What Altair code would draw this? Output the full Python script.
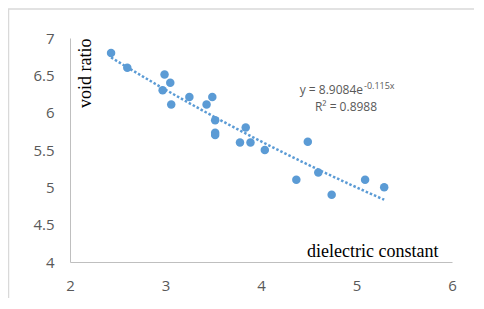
import altair as alt
import pandas as pd

# Data
dielectric = [2.43, 2.60, 2.99, 3.05, 2.97, 3.06, 3.25, 3.43, 3.49, 3.52, 3.52, 3.52,
              3.84, 3.78, 3.89, 4.04, 4.49, 4.37, 4.60, 4.74, 5.09, 5.29]
void_ratio = [6.80, 6.60, 6.51, 6.40, 6.30, 6.11, 6.21, 6.11, 6.21, 5.90, 5.73, 5.70,
              5.80, 5.60, 5.60, 5.50, 5.61, 5.10, 5.20, 4.90, 5.10, 5.00]
x_ticks = [2, 3, 4, 5, 6]
y_ticks = [4, 4.5, 5, 5.5, 6, 6.5, 7]
eq_main = "y = 8.9084e"
eq_sup = "-0.115x"
r2_text = "R² = 0.8988"

df = pd.DataFrame({"x": dielectric, "y": void_ratio})

BLUE = "#5B9BD5"
GRAY = "#595959"

W, H = 382, 224

xs = alt.X("x:Q", scale=alt.Scale(domain=[2, 6], nice=False, zero=False),
           axis=alt.Axis(values=x_ticks, title="dielectric constant", grid=False,
                         ticks=False, tickSize=0, labelPadding=16, domainColor="#BFBFBF",
                         labelColor=GRAY, labelFont="Open Sans", labelFontSize=15,
                         labelFlush=False, labelOverlap=False,
                         titleFont="Liberation Serif", titleFontSize=18, titleFontWeight="normal",
                         titleColor="black", titleX=368, titleY=-6, titleAlign="right",
                         titleBaseline="alphabetic", format="~g"))
ys = alt.Y("y:Q", scale=alt.Scale(domain=[4, 7], nice=False, zero=False),
           axis=alt.Axis(values=y_ticks, title="void ratio", grid=False,
                         ticks=False, tickSize=0, labelPadding=16, domainColor="#BFBFBF",
                         labelColor=GRAY, labelFont="Open Sans", labelFontSize=15,
                         labelFlush=False, labelOverlap=False,
                         titleFont="Liberation Serif", titleFontSize=18, titleFontWeight="normal",
                         titleColor="black", titleX=15, titleY=0, titleAngle=-90,
                         titleAlign="right", titleBaseline="middle", format="~g"))

base = alt.Chart(df)

points = base.mark_circle(size=72, color=BLUE, opacity=1).encode(x=xs, y=ys)

trend = base.transform_regression("x", "y", method="exp").mark_line(
    color=BLUE, strokeWidth=2.5, strokeDash=[2.5, 2]
).encode(x=xs, y=ys)

one = alt.Data(values=[{}])

frame_top = alt.Chart(one).mark_rule(color="#D9D9D9", strokeWidth=1.5).encode(
    x=alt.value(-62), x2=alt.value(W + 22), y=alt.value(-29))
frame_left = alt.Chart(one).mark_rule(color="#D9D9D9", strokeWidth=1.5).encode(
    x=alt.value(-61.5), y=alt.value(-29), y2=alt.value(H + 36))

t_main = alt.Chart(one).mark_text(font="Open Sans", fontSize=12, color=GRAY,
                                  align="right", baseline="middle").encode(
    x=alt.value(293), y=alt.value(52), text=alt.value(eq_main))
t_sup = alt.Chart(one).mark_text(font="Open Sans", fontSize=9, color=GRAY,
                                 align="left", baseline="middle").encode(
    x=alt.value(294), y=alt.value(48), text=alt.value(eq_sup))
t_r2 = alt.Chart(one).mark_text(font="Open Sans", fontSize=12, color=GRAY,
                                align="center", baseline="middle").encode(
    x=alt.value(276), y=alt.value(69), text=alt.value(r2_text))

chart = alt.layer(frame_top, frame_left, points, trend, t_main, t_sup, t_r2).properties(
    width=W, height=H,
    autosize=alt.AutoSizeParams(type="none"),
    padding={"left": 62, "top": 30, "right": 22, "bottom": 36},
    background="white",
).configure_view(stroke=None)

chart.save("out.html", embed_options={"renderer": "svg", "actions": False})
